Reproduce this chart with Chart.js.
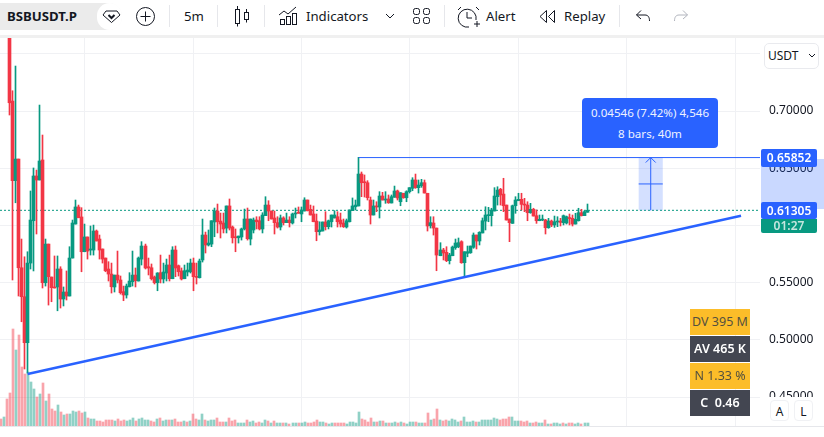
<!DOCTYPE html>
<html>
<head>
<meta charset="utf-8">
<title>BSBUSDT.P</title>
<script src="https://cdn.jsdelivr.net/npm/chart.js@4/dist/chart.umd.min.js"></script>
<style>
    html, body { margin: 0; padding: 0; background: #fff; }
    body { width: 824px; height: 437px; overflow: hidden; position: relative; font-family: "Noto Sans", sans-serif; color: #131722; }
    .abs { position: absolute; white-space: nowrap; }
    .tb { font-size: 13.2px; top: 7px; line-height: 19px; }
    .sep { position: absolute; top: 5px; width: 1px; height: 22px; background: #e6e7eb; }
    svg { position: absolute; overflow: visible; fill: none; stroke: #131722; stroke-width: 1; }
    .stat { position: absolute; left: 690px; width: 60px; height: 26px; line-height: 26px; text-align: center; font-size: 12.5px; white-space: nowrap; }
    .gold { background: #fcbd29; color: #54503f; }
    .dark { background: #434651; color: #fff; font-weight: 600; }
    .price { position: absolute; left: 761px; width: 56px; text-align: center; color: #fff; font-size: 12px; font-weight: 600; border-radius: 2px; }
    .corner { position: absolute; top: 400px; width: 19px; height: 21px; line-height: 21px; text-align: center; font-size: 12px; border: 1px solid #f0f1f4; border-radius: 4px; box-sizing: border-box; background: #fff; }
</style>
</head>
<body>
<!-- toolbar -->
<div class="abs" style="left:0;top:3px;width:122px;height:27px;background:#ebebeb;border-radius:0 14px 14px 0"></div>
<div class="abs" style="left:97px;top:3px;width:25px;height:27px;background:#fff;border-radius:14px"></div>
<div class="abs tb" style="left:7px;font-weight:700">BSBUSDT.P</div>
<svg style="left:103px;top:10px" width="17" height="13"><path d="M3 1h11l3 4-8.500 7.500L0 5z"/><path d="M5.500 5l3 3 3-3" stroke-width="2"/></svg>
<svg style="left:136px;top:7px" width="19" height="19"><circle cx="9.500" cy="9.500" r="9"/><path d="M9.500 4.500v10M4.500 9.500h10"/></svg>
<div class="sep" style="left:169px"></div>
<div class="abs tb" style="left:184px">5m</div>
<div class="sep" style="left:217px"></div>
<svg style="left:235px;top:6px" width="14" height="20"><rect x="0.500" y="3.500" width="4" height="14"/><path d="M2.500 0v3.500M2.500 17.500v3"/><rect x="9.500" y="6.500" width="4" height="7"/><path d="M11.500 3v3.500M11.500 13.500v3"/></svg>
<div class="sep" style="left:264px"></div>
<svg style="left:279px;top:6px" width="18" height="19"><path d="M0 9l5-4 4 3 8-7"/><rect x="1.500" y="13.500" width="4" height="5"/><rect x="7.500" y="10.500" width="4" height="8"/><rect x="13.500" y="7.500" width="4" height="11"/></svg>
<div class="abs tb" style="left:306px">Indicators</div>
<svg style="left:386px;top:14px" width="8" height="5"><path d="M0 0l4 4 4-4"/></svg>
<svg style="left:413px;top:8px" width="17" height="16"><rect x="0.500" y="0.500" width="6" height="6" rx="2"/><rect x="10.500" y="0.500" width="6" height="6" rx="2"/><rect x="0.500" y="9.500" width="6" height="6" rx="2"/><rect x="10.500" y="9.500" width="6" height="6" rx="2"/></svg>
<div class="sep" style="left:444px"></div>
<svg style="left:458px;top:6px" width="21" height="21"><path d="M11 21a9 9 0 1 1 7-7"/><path d="M9 6v6h5M0 4l3-3M18 1l3 3M16 18h6M19 15v6"/></svg>
<div class="abs tb" style="left:486px">Alert</div>
<svg style="left:539px;top:10px" width="16" height="13"><path d="M7.500 0.500L1 6.500l6.500 6zM15.500 0.500L9.500 6.500l6 6z"/></svg>
<div class="abs tb" style="left:564px">Replay</div>
<div class="sep" style="left:619px"></div>
<svg style="left:636px;top:10px" width="14" height="12"><path d="M5 0.500L0.500 5 5 9M0.500 5H9c3 0 4.500 2 4.500 6"/></svg>
<svg style="left:674px;top:10px;stroke:#b2b5be" width="14" height="12"><path d="M9 0.500L13.500 5 9 9M13.500 5H5c-3 0-4.500 2-4.500 6"/></svg>
<div class="abs" style="left:0;top:35px;width:824px;height:3px;background:#f0f0f0"></div>

<div class="abs" style="left:0;top:38px;width:824px;height:399px">
    <canvas id="chart" width="824" height="399" style="display:block"></canvas>
</div>

<div class="abs" style="left:0;top:426px;width:824px;height:1px;background:#e6e7eb"></div>

<!-- right scale overlays -->
<div class="abs" style="left:764px;top:43px;width:55px;height:26px;line-height:24px;border:1px solid #e9eaee;border-radius:5px;box-sizing:border-box;background:#fff;font-size:12px;padding-left:3px">USDT</div>
<svg style="left:809px;top:54px" width="6" height="4"><path d="M0 0l3 3 3-3"/></svg>
<div class="abs" style="left:761px;top:159px;width:63px;height:50px;background:rgba(41,98,255,0.25)"></div>
<div class="price" style="top:149px;height:18px;line-height:18px;background:#2962ff">0.65852</div>
<div class="price" style="top:202px;height:17px;line-height:17px;background:#2962ff">0.61305</div>
<div class="price" style="top:219px;height:14px;line-height:14px;background:#089981;color:#c5e6df;border-radius:0 0 2px 2px">01:27</div>
<div class="abs" style="left:760px;top:397px;width:64px;height:29px;background:#fff"></div>
<div class="corner" style="left:770px;color:#131722">A</div>
<div class="corner" style="left:794px;color:#131722">L</div>

<!-- measure tooltip -->
<div class="abs" style="left:582px;top:98px;width:136px;height:50px;background:#2962ff;border-radius:4px;color:#eef2ff;font-size:11.6px;text-align:center">
    <div style="margin-top:6px;line-height:17px">0.04546 (7.42%) 4,546</div>
    <div style="margin-top:4px;line-height:17px">8 bars, 40m</div>
</div>

<!-- stats table -->
<div class="stat gold" style="top:309px">DV 395 M</div>
<div class="stat dark" style="top:336px">AV 465 K</div>
<div class="stat gold" style="top:363px">N 1.33 %</div>
<div class="stat dark" style="top:390px">C&nbsp; 0.46</div>

<script>
// values, one entry per 5m bar
const open = [
    .80,.78,.82,.80,.7087,.6391,.6580,.5630,.5377,.4975,
    .5671,.6041,.6432,.6397,.6572,.5499,.5837,.5549,.5462,.5462,
    .5619,.5357,.5418,.5383,.5715,.6012,.6161,.6074,.5770,.5899,
    .5785,.5785,.5951,.5881,.5794,.5715,.5619,.5575,.5462,.5566,
    .5523,.5421,.5392,.5464,.5508,.5566,.5514,.5706,.5820,.5639,
    .5630,.5549,.5499,.5587,.5532,.5584,.5654,.5534,.5785,.5648,
    .5602,.5534,.5593,.5595,.5671,.5552,.5543,.5698,.5916,.5829,
    .5837,.6030,.6126,.6038,.6021,.5977,.6170,.5986,.5901,.5892,
    .5899,.5969,.6056,.5881,.5960,.6047,.6041,.5969,.6085,.6178,
    .6126,.6065,.6024,.5986,.6065,.6024,.6047,.6021,.6100,.6111,
    .6100,.6126,.6222,.6141,.6100,.6038,.5945,.5951,.6030,.5989,
    .6032,.6065,.6076,.6047,.6021,.5986,.6032,.6129,.6163,.6170,
    .6449,.6379,.6373,.6222,.6091,.6170,.6161,.6257,.6222,.6231,
    .6196,.6246,.6301,.6207,.6281,.6242,.6295,.6324,.6397,.6330,
    .6347,.6373,.6281,.5997,.6021,.5977,.5735,.5785,.5765,.5692,
    .5735,.5805,.5814,.5858,.5674,.5756,.5761,.5809,.5916,.5864,
    .5934,.6038,.6085,.6085,.6126,.6251,.6316,.6274,.6178,.6056,
    .6018,.6172,.6216,.6228,.6187,.6178,.6111,.6141,.6085,.6041,
    .6047,.6047,.5980,.6038,.6004,.6030,.6038,.6024,.6021,.6067,
    .6062,.6012,.6041,.6111,.6085,.6115
];
const high = [
    .82,.83,.85,.82,.7177,.7393,.6580,.5881,.5726,.5770,
    .6301,.6502,.6484,.7052,.6790,.5881,.5837,.5549,.5733,.5733,
    .5639,.5462,.5602,.5814,.6047,.6222,.6178,.6155,.6012,.5899,
    .5995,.6003,.5960,.5916,.5794,.5715,.5683,.5671,.5566,.5776,
    .5558,.5470,.5488,.5587,.5776,.5628,.5724,.5858,.5837,.5715,
    .5663,.5558,.5587,.5741,.5671,.5706,.5741,.5814,.5820,.5654,
    .5628,.5654,.5671,.5706,.5715,.5671,.5706,.6056,.5942,.5960,
    .6041,.6152,.6187,.6108,.6108,.6170,.6231,.5995,.5969,.5907,
    .5977,.6143,.6152,.6056,.6065,.6076,.6076,.6111,.6251,.6216,
    .6126,.6126,.6076,.6091,.6076,.6108,.6076,.6108,.6152,.6161,
    .6161,.6242,.6222,.6178,.6170,.6100,.6032,.6030,.6120,.6047,
    .6091,.6129,.6120,.6108,.6056,.6056,.6135,.6240,.6222,.6595,
    .6467,.6441,.6391,.6248,.6222,.6207,.6295,.6289,.6295,.6266,
    .6266,.6344,.6309,.6286,.6281,.6303,.6330,.6417,.6449,.6397,
    .6403,.6397,.6281,.6076,.6076,.5977,.5849,.5800,.5814,.5756,
    .5820,.5881,.5890,.5866,.5770,.5820,.5820,.5934,.5916,.5945,
    .6065,.6163,.6158,.6150,.6330,.6338,.6324,.6412,.6178,.6056,
    .6178,.6251,.6281,.6281,.6237,.6207,.6193,.6150,.6135,.6091,
    .6091,.6053,.6062,.6047,.6082,.6076,.6062,.6091,.6082,.6100,
    .6091,.6106,.6150,.6141,.6129,.6187
];
const low = [
    .78,.775,.79,.6965,.5523,.6198,.5383,.5158,.4745,.4710,
    .5619,.5602,.5925,.6397,.5453,.5470,.5304,.5333,.5453,.5254,
    .5278,.5296,.5348,.5383,.5715,.6012,.6067,.5595,.5770,.5706,
    .5741,.5741,.5864,.5706,.5671,.5595,.5514,.5409,.5418,.5497,
    .5400,.5342,.5365,.5462,.5470,.5462,.5514,.5654,.5619,.5567,
    .5523,.5488,.5429,.5497,.5497,.5514,.5514,.5534,.5552,.5558,
    .5523,.5534,.5558,.5584,.5429,.5488,.5540,.5680,.5759,.5820,
    .5814,.5901,.5934,.5890,.5934,.5934,.5960,.5846,.5770,.5846,
    .5872,.5960,.5872,.5829,.5934,.5969,.5960,.5934,.6085,.6041,
    .6056,.5925,.5977,.5960,.6004,.6024,.5986,.6012,.6065,.6106,
    .6032,.6126,.6126,.6091,.6032,.5866,.5916,.5951,.5960,.5969,
    .5986,.6065,.5986,.5986,.5982,.5977,.6030,.6129,.6135,.6170,
    .6251,.6248,.6222,.6012,.6091,.6120,.6065,.6222,.6193,.6193,
    .6196,.6246,.6222,.6172,.6237,.6207,.6283,.6303,.6324,.6283,
    .6333,.6283,.5951,.5977,.5916,.5604,.5735,.5698,.5683,.5663,
    .5735,.5791,.5805,.5669,.5546,.5726,.5756,.5800,.5794,.5829,
    .5934,.5960,.6032,.5995,.6126,.6178,.6178,.6120,.6047,.5858,
    .6018,.6106,.6216,.6135,.6120,.6041,.6106,.6082,.6018,.6041,
    .6041,.5925,.5975,.5989,.5983,.5989,.5995,.6004,.6012,.6004,
    .5995,.6012,.6038,.6082,.6085,.6115
];
const close = [
    .78,.82,.80,.7072,.6391,.6580,.5630,.5377,.4975,.5671,
    .6047,.6432,.6397,.6563,.5499,.5837,.5552,.5456,.5453,.5619,
    .5357,.5418,.5383,.5715,.6021,.6161,.6067,.5770,.5899,.5776,
    .5794,.5951,.5864,.5785,.5706,.5604,.5575,.5464,.5566,.5523,
    .5412,.5392,.5470,.5514,.5566,.5517,.5715,.5820,.5628,.5628,
    .5534,.5499,.5584,.5532,.5593,.5654,.5534,.5785,.5628,.5595,
    .5532,.5604,.5610,.5671,.5552,.5546,.5689,.5916,.5829,.5846,
    .6041,.6126,.6032,.6012,.5969,.6170,.5977,.5892,.5892,.5907,
    .5969,.6056,.5884,.6056,.6047,.6032,.5969,.6091,.6178,.6126,
    .6056,.6024,.5986,.6065,.6024,.6047,.6024,.6100,.6108,.6106,
    .6135,.6222,.6129,.6091,.6032,.5945,.5960,.6030,.5989,.6041,
    .6091,.6091,.6032,.6012,.5989,.6041,.6135,.6170,.6178,.6449,
    .6373,.6373,.6242,.6091,.6170,.6161,.6257,.6222,.6228,.6198,
    .6251,.6301,.6240,.6286,.6242,.6295,.6330,.6397,.6330,.6353,
    .6373,.6283,.5995,.6024,.5977,.5741,.5785,.5759,.5692,.5741,
    .5811,.5846,.5849,.5674,.5770,.5770,.5820,.5916,.5864,.5940,
    .6041,.6091,.6091,.6135,.6257,.6309,.6266,.6172,.6047,.6024,
    .6172,.6222,.6228,.6184,.6178,.6111,.6141,.6082,.6041,.6053,
    .6053,.5980,.6038,.6004,.6032,.6038,.6027,.6085,.6076,.6060,
    .6012,.6053,.6111,.6085,.6120,.6132
];
// volume in 50K lots, negative = down bar
const volume = [
    -7,9,-27,-33,-97,76,-91,-59,-52,54,
    44,37,-29,32,-43,25,-32,-17,-15,21,
    -14,11,-12,12,15,14,-15,-13,14,-8,
    7,7,-5,-5,-4,-6,-6,-6,5,-7,
    -5,-6,5,6,8,-5,7,8,6,6,
    -5,-4,7,-8,5,6,-6,6,-7,-4,
    -4,5,-4,5,-12,-7,6,12,-6,5,
    6,6,-8,-4,-4,4,-8,-5,-6,3,
    3,3,-6,4,5,-3,-4,3,6,-5,
    3,-5,3,3,-3,3,-2,3,3,-3,
    3,4,-3,-3,-4,-6,4,4,-3,2,
    3,-3,-3,-3,-3,2,4,4,3,14,
    -7,-6,-4,-8,4,-4,5,-5,3,-3,
    3,4,-3,4,-3,2,4,4,-4,3,
    3,-3,-13,6,-7,-17,6,-5,-6,5,
    7,6,4,-5,9,4,4,5,-4,4,
    6,6,6,6,8,7,-6,-7,-7,-9,
    9,5,5,-5,-4,-5,3,-3,-4,3,
    3,-6,2,-2,3,3,2,-3,2,-3,
    -3,2,3,-2,3,3
];

const priceTicks = [0.45, 0.50, 0.55, 0.60, 0.65, 0.70, 0.75];
const timeGridBars = [28, 64, 100, 136, 172, 208, 244];
const lastPrice = 0.6132;
const trendBars = [9, 246];
const trendPrices = [0.4701, 0.6085];
const measureStartBar = 119;
const measureBars = [212, 220];
const measurePrices = [0.6132, 0.6593];

const xMin = -0.17, xMax = 252.3;
const priceMin = 0.4247, priceMax = 0.7638;
const volumeMax = 388;

const UP = '#089981', DOWN = '#f23645', BLUE = '#2962ff';
const GRID = '#f0f1f4';

const bars = open.map((_, i) => i);
const candleColors = bars.map(i => close[i] >= open[i] ? UP : DOWN);
const volumeColors = volume.map(v => v >= 0 ? 'rgba(8,153,129,0.45)' : 'rgba(242,54,69,0.45)');

// keep bars on whole pixels so wicks stay crisp
const snapPlugin = {
    id: 'snap',
    afterDatasetsUpdate(chart) {
        chart.data.datasets.forEach((ds, index) => {
            if (ds.type === 'line') return;
            chart.getDatasetMeta(index).data.forEach(el => {
                el.x = ds.barThickness % 2 ? Math.floor(el.x) + 0.5 : Math.round(el.x);
            });
        });
    }
};

// measure box and arrow, drawn on top of the candles
const measurePlugin = {
    id: 'measure',
    afterDatasetsDraw(chart) {
        const { ctx, scales: { x, y } } = chart;
        const left = x.getPixelForValue(measureBars[0]);
        const right = x.getPixelForValue(measureBars[1]);
        const bottom = y.getPixelForValue(measurePrices[0]);
        const top = y.getPixelForValue(measurePrices[1]);
        const mid = (left + right) / 2;
        ctx.save();
        ctx.fillStyle = 'rgba(41,98,255,0.2)';
        ctx.fillRect(left, top, right - left, bottom - top);
        ctx.strokeStyle = BLUE;
        ctx.lineWidth = 1;
        ctx.beginPath();
        ctx.moveTo(mid, bottom);
        ctx.lineTo(mid, top);
        ctx.moveTo(mid - 5, top + 5);
        ctx.lineTo(mid, top);
        ctx.lineTo(mid + 5, top + 5);
        ctx.moveTo(left, (top + bottom) / 2);
        ctx.lineTo(right, (top + bottom) / 2);
        ctx.stroke();
        ctx.restore();
    }
};

new Chart(document.getElementById('chart'), {
    type: 'bar',
    data: {
        datasets: [
            {
                type: 'line',
                data: [{ x: xMin, y: lastPrice }, { x: xMax, y: lastPrice }],
                borderColor: UP,
                borderWidth: 1,
                borderDash: [2, 2],
                pointRadius: 0,
                order: 6
            },
            {
                data: bars.map(i => ({ x: i, y: Math.abs(volume[i]) })),
                yAxisID: 'volume',
                backgroundColor: volumeColors,
                barThickness: 2,
                grouped: false,
                order: 5
            },
            {
                data: bars.map(i => ({ x: i, y: [low[i], high[i]] })),
                backgroundColor: candleColors,
                barThickness: 1,
                grouped: false,
                order: 4
            },
            {
                data: bars.map(i => ({ x: i, y: [open[i], close[i]] })),
                backgroundColor: candleColors,
                barThickness: 3,
                minBarLength: 1,
                grouped: false,
                order: 3
            },
            {
                type: 'line',
                data: [{ x: measureStartBar, y: measurePrices[1] }, { x: xMax, y: measurePrices[1] }],
                borderColor: BLUE,
                borderWidth: 1,
                pointRadius: 0,
                order: 2
            },
            {
                type: 'line',
                data: trendBars.map((b, i) => ({ x: b, y: trendPrices[i] })),
                borderColor: BLUE,
                borderWidth: 2.5,
                pointRadius: 0,
                order: 1
            }
        ]
    },
    options: {
        responsive: false,
        animation: false,
        events: [],
        layout: { padding: 0 },
        plugins: { legend: { display: false }, tooltip: { enabled: false } },
        scales: {
            x: {
                type: 'linear',
                offset: false,
                min: xMin,
                max: xMax,
                afterBuildTicks: axis => { axis.ticks = timeGridBars.map(value => ({ value })); },
                afterFit: axis => {
                    axis.height = 11;
                    axis.paddingLeft = 0;
                    axis.paddingRight = 0;
                },
                grid: { color: GRID, offset: false, drawTicks: false },
                border: { display: false },
                ticks: { display: false }
            },
            y: {
                position: 'right',
                min: priceMin,
                max: priceMax,
                afterBuildTicks: axis => { axis.ticks = priceTicks.map(value => ({ value })); },
                afterFit: axis => {
                    axis.width = 64;
                    axis.paddingTop = 0;
                    axis.paddingBottom = 0;
                },
                grid: { color: GRID, drawTicks: false },
                border: { display: false },
                ticks: {
                    padding: 9,
                    color: '#131722',
                    font: { family: '"Noto Sans"', size: 12 },
                    callback: value => value.toFixed(5)
                }
            },
            volume: {
                display: false,
                min: 0,
                max: volumeMax
            }
        }
    },
    plugins: [snapPlugin, measurePlugin]
});
</script>
</body>
</html>
